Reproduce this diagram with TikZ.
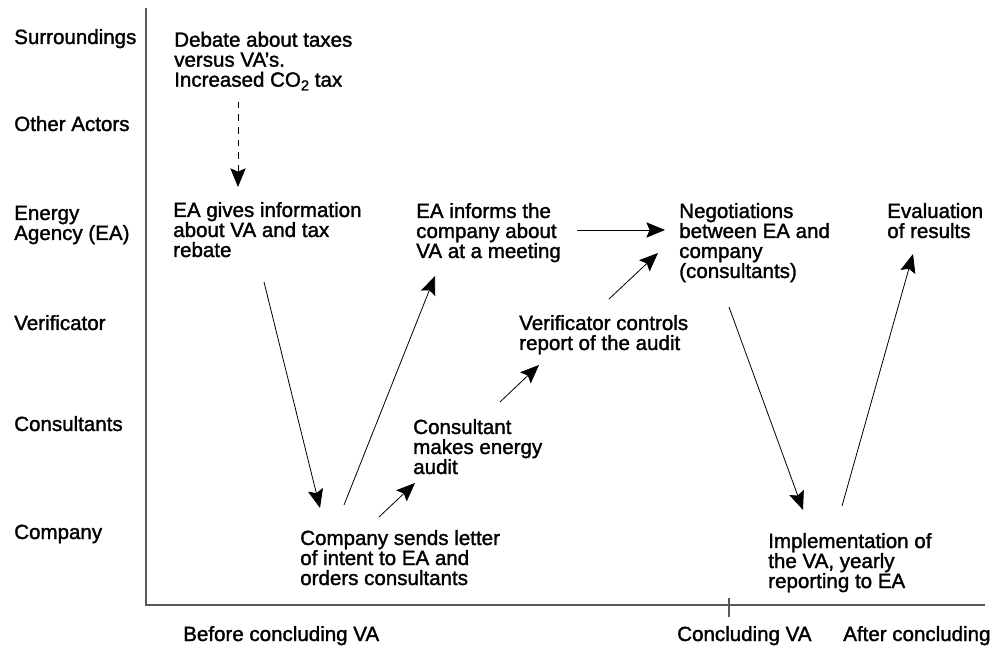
\documentclass[tikz,border=0pt]{standalone}
\usepackage{fontspec}
\setmainfont{Liberation Sans}[FakeBold=1.5]
\usetikzlibrary{arrows.meta,calc}
\begin{document}
\begin{tikzpicture}[x=0.75pt,y=-0.75pt,
  font=\fontsize{15.4}{15}\selectfont,
  txt/.style={anchor=base west,align=left,inner sep=0pt},
  flow/.style={-{Stealth[length=14pt,width=11.5pt,inset=2.5pt]},line width=0.6pt},
  axisline/.style={line width=0.8pt,black!65}]
\useasboundingbox (0,0) rectangle (996,648);
% axes
\draw[axisline] (146,8) -- (146,605) -- (985,605);
\draw[axisline] (729,598) -- (729,617);
% actors
\foreach \lab/\yy [count=\i] in {Surroundings/44,Other Actors/131,{Energy\\Agency (EA)}/240,Verificator/330,Consultants/431,Company/539}
  \node[txt] (row\i) at (14,\yy) {\lab};
% phases
\node[txt] (before) at (183,641) {Before concluding VA};
\node[txt] (concl) at (677,641) {Concluding VA};
\node[txt] (after) at (843,641) {After concluding};
% steps
\node[txt] (debate) at (174,86.7) {Debate about taxes\\versus VA’s.\\Increased CO\raisebox{-0.35ex}{\fontsize{11}{11}\selectfont 2} tax};
\node[txt] (eagives) at (173,257) {EA gives information\\about VA and tax\\rebate};
\node[txt] (eainforms) at (416,258) {EA informs the\\company about\\VA at a meeting};
\node[txt] (negot) at (679,278) {Negotiations\\between EA and\\company\\(consultants)};
\node[txt] (evalres) at (887,238) {Evaluation\\of results};
\node[txt] (verif) at (519,350) {Verificator controls\\report of the audit};
\node[txt] (consult) at (413,474) {Consultant\\makes energy\\audit};
\node[txt] (letter) at (300,585) {Company sends letter\\of intent to EA and\\orders consultants};
\node[txt] (implem) at (768,588) {Implementation of\\the VA, yearly\\reporting to EA};
% connections
\draw[flow,dash pattern=on 5pt off 4.5pt] ($(debate.base west)+(64,15)$) -- ($(eagives.base west)+(65,-70)$);
\draw[flow] ($(eagives.base west)+(91,25)$) -- ($(letter.base west)+(20,-77)$);
\draw[flow] ($(letter.base west)+(44,-80)$) -- ($(eainforms.base west)+(19,18)$);
\draw[flow] ($(letter.base west)+(79,-68)$) -- ($(consult.base west)+(2,9)$);
\draw[flow] ($(consult.base west)+(87,-72)$) -- ($(verif.base west)+(20,15)$);
\draw[flow] ($(verif.base west)+(90,-51)$) -- ($(negot.base west)+(-21,-25)$);
\draw[flow] ($(eainforms.base west)+(161,-28)$) -- ($(negot.base west)+(-14,-48)$);
\draw[flow] ($(negot.base west)+(50,29)$) -- ($(implem.base west)+(35,-78)$);
\draw[flow] ($(implem.base west)+(74,-82)$) -- ($(evalres.base west)+(26,16)$);
\end{tikzpicture}
\end{document}
